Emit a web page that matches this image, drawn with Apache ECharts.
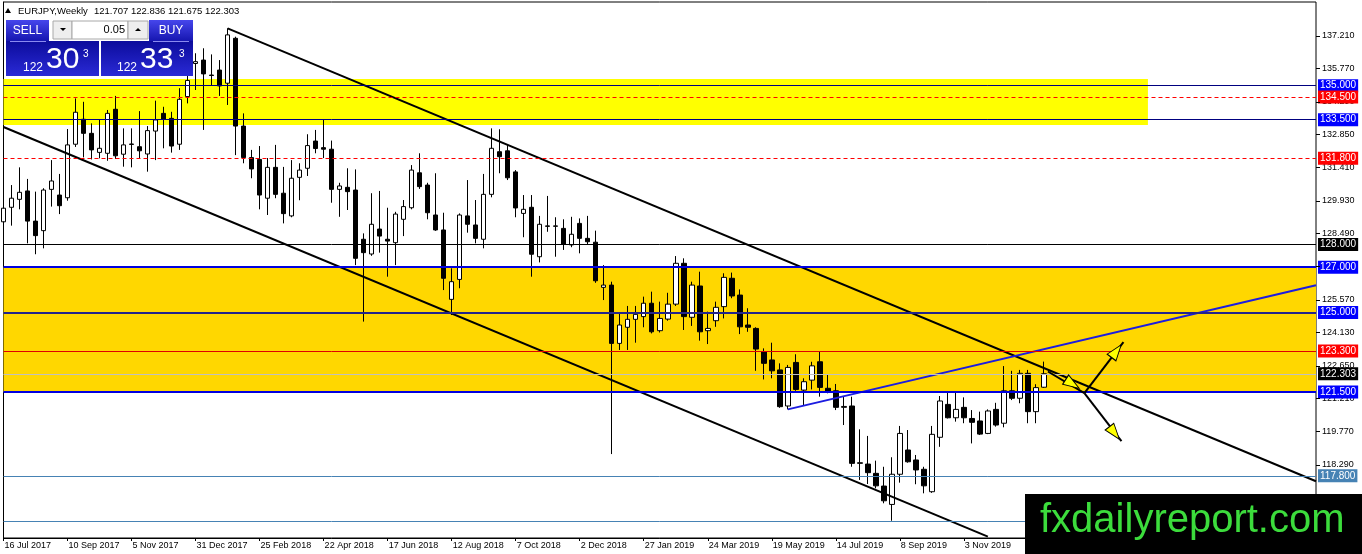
<!DOCTYPE html>
<html><head><meta charset="utf-8">
<script src="https://cdn.jsdelivr.net/npm/echarts@6/dist/echarts.min.js"></script>
<style>html,body{margin:0;padding:0;background:#fff}#c{width:1362px;height:554px}</style>
</head><body><div id="c"></div>
<script>
// ---------------- DATA ----------------
const symbolName = 'EURJPY';
const timeframe = 'Weekly';
const futureWeeks = 34;           // empty weeks to the right of the last bar
const opens = [129.00,129.64,129.99,130.36,129.03,128.61,130.43,130.18,130.06,132.42,133.52,132.90,132.06,132.02,133.96,131.98,132.41,132.31,131.99,133.00,133.78,133.56,132.42,134.52,135.98,136.13,135.47,135.69,135.11,137.09,133.22,131.83,131.75,130.04,131.40,130.26,129.26,130.96,131.36,132.56,132.27,132.20,130.43,130.52,130.40,128.23,127.58,128.68,128.23,128.08,129.11,129.62,131.16,130.62,129.30,128.64,125.58,126.46,129.26,128.86,128.23,130.21,132.09,132.13,131.20,129.37,129.64,127.46,128.82,128.80,128.71,127.98,128.93,128.27,128.10,126.11,126.21,123.64,124.35,124.70,124.82,125.41,124.20,124.71,125.37,127.17,124.79,126.17,124.20,124.64,125.26,126.51,125.77,124.45,124.30,123.27,122.91,122.47,120.88,122.80,121.58,122.02,122.83,121.66,121.55,120.82,120.88,118.35,118.32,117.91,117.35,116.54,117.87,118.94,118.50,118.09,117.10,119.50,120.95,120.36,120.82,120.33,120.22,119.67,120.73,120.12,121.55,121.22,122.32,120.63,121.707];
const highs = [130.48,130.62,131.40,130.89,130.33,130.48,131.72,131.11,133.09,134.44,134.29,133.34,133.49,133.93,134.55,133.12,133.12,133.88,133.22,134.34,134.07,133.85,134.89,135.47,136.43,136.65,136.38,136.13,137.53,137.16,133.78,132.17,132.34,131.81,132.39,131.42,131.72,131.58,132.86,133.05,133.51,132.58,130.72,131.36,131.31,128.49,130.26,130.36,129.62,129.44,129.96,131.50,132.02,130.72,131.14,129.40,126.95,129.37,130.84,129.96,131.11,133.12,133.08,132.39,131.28,130.18,130.18,129.26,130.14,129.20,129.11,129.22,129.15,129.26,128.61,127.09,126.36,124.99,125.29,125.29,125.70,125.92,125.48,125.87,127.49,127.39,126.36,126.80,125.04,125.48,126.73,126.76,126.02,125.19,124.35,123.42,123.67,122.76,122.69,123.16,122.10,122.83,123.27,122.29,121.85,121.29,121.29,119.85,119.56,118.47,118.20,118.62,120.00,119.82,118.72,118.20,120.00,121.32,121.51,121.46,121.26,120.70,120.63,120.73,121.02,122.64,122.43,122.47,122.47,121.84,122.836];
const lows = [128.56,128.83,129.55,128.05,127.57,127.83,129.67,129.34,129.93,132.30,131.84,131.75,131.80,131.69,131.77,131.43,131.40,131.77,131.21,131.72,132.24,132.05,132.17,134.22,134.81,133.05,135.03,134.55,134.15,131.94,131.58,130.92,129.55,129.30,130.04,128.93,129.20,129.95,131.02,132.02,131.81,129.84,129.22,129.52,127.09,124.60,127.50,127.64,126.58,127.09,128.37,129.55,130.45,129.11,128.60,125.99,124.89,126.07,128.52,128.05,127.83,130.08,131.14,130.84,129.20,128.32,126.58,127.21,128.56,127.46,127.76,127.88,127.61,127.98,126.31,125.55,118.76,123.35,123.35,123.67,124.35,124.08,124.12,124.64,125.29,124.23,124.41,123.76,123.61,124.37,124.74,125.63,124.05,124.15,122.43,122.05,122.10,120.80,120.73,121.55,120.92,121.61,121.29,121.44,120.70,120.04,118.20,117.62,117.44,117.25,116.59,115.82,117.50,118.38,117.43,117.03,117.05,119.08,120.33,120.19,120.12,119.23,119.60,119.64,119.97,119.94,121.14,121.00,120.12,120.12,121.675];
const closes = [129.60,130.04,130.30,129.03,128.39,130.40,130.80,129.71,132.39,133.83,132.90,132.17,132.24,133.78,131.91,132.39,132.43,132.13,133.02,133.49,133.52,132.34,134.40,135.23,136.06,135.52,135.45,134.99,137.24,133.22,131.83,131.33,130.18,131.40,130.21,129.36,130.92,131.28,132.36,132.23,132.20,130.43,130.58,130.33,127.39,127.64,128.89,128.37,128.15,129.34,129.67,131.28,130.55,129.40,128.64,126.51,126.36,129.30,128.89,128.27,130.21,132.24,131.87,130.94,129.61,129.55,127.57,128.89,128.80,128.82,128.01,128.45,128.27,128.12,126.40,126.21,123.64,124.45,124.70,124.92,125.41,124.15,124.74,125.37,127.17,124.82,126.21,124.15,124.30,125.23,126.55,125.73,124.37,124.35,123.39,122.76,122.43,120.85,122.58,121.61,121.95,122.65,121.70,121.51,120.82,120.86,118.35,118.38,117.94,117.36,116.70,117.87,119.67,118.42,118.06,117.36,119.63,121.10,120.36,120.73,120.36,120.16,119.64,120.66,120.04,121.55,121.22,122.32,120.63,121.69,122.303];
const askSpread = 0.030;

const yTickLabels = [137.21,135.77,134.29,132.85,131.41,129.93,128.49,127.05,125.57,124.13,122.65,121.21,119.77,118.29,116.85,115.41];
const levelValues = [135.0,134.5,133.5,131.8,128.0,127.0,125.0,123.3,121.5,117.8,115.8];
const yellowZone = [133.27, 135.3];     // price range
const yellowZoneEndWeek = 143;          // bar index where it ends
const goldZone = [121.5, 127.0];
const upperChannel = [[28, 137.53], [164, 117.56]];
const lowerChannel = [[0, 133.18], [123, 115.12]];
const blueTrend = [[98, 120.73], [164, 126.20]];
const arrowLines = [
  [[130.5, 122.40], [135.06, 121.45]],
  [[135.06, 121.45], [139.94, 123.70]],
  [[135.06, 121.45], [139.69, 119.33]]
];
const arrowHeads = [[133.56, 121.85], [139.06, 123.30], [138.81, 119.69]];
const watermarkText = 'fxdailyreport.com';

// ---------------- STYLES ----------------
const FONT = "'Liberation Sans', Arial, sans-serif";
const yMin = 115.06, yMax = 138.69;
const levelStyles = [
  {c:'#000080', w:1, t:'solid', bg:'#0000ff'},
  {c:'#ff0000', w:1, t:[4,3], bg:'#ff0000'},
  {c:'#000080', w:1, t:'solid', bg:'#0000ff'},
  {c:'#ff0000', w:1, t:[4,3], bg:'#ff0000'},
  {c:'#000000', w:1, t:'solid', bg:'#000000'},
  {c:'#0000e0', w:2, t:'solid', bg:'#0000ff'},
  {c:'#24248a', w:2, t:'solid', bg:'#0000ff'},
  {c:'#e00000', w:1, t:'solid', bg:'#ff0000'},
  {c:'#0000e0', w:2, t:'solid', bg:'#0000ff'},
  {c:'#4682b4', w:1, t:'solid', bg:'#4682b4'},
  {c:'#4682b4', w:1, t:'solid', bg:'#4682b4'}
];
const arrowAngles = [-123, -37, -142];

// ---------------- BUILD ----------------
const monthNames = ['Jan','Feb','Mar','Apr','May','Jun','Jul','Aug','Sep','Oct','Nov','Dec'];
const dates = [];
for (let k = 0; k < opens.length + futureWeeks; k++) {
  const d = new Date(Date.UTC(2017, 6, 16 + 7 * k));
  dates.push(d.getUTCDate() + ' ' + monthNames[d.getUTCMonth()] + ' ' + d.getUTCFullYear());
}
const lastIdx = dates.length - 1;
const candles = opens.map((o, i) => [o, closes[i], lows[i], highs[i]]);
const n = opens.length - 1;
const bid = closes[n];
const ask = bid + askSpread;

function lbl(bg, v) {
  return {show: true, position: 'end', distance: 2, formatter: v.toFixed(3), color: '#fff',
    backgroundColor: bg, padding: [2, 2, 1, 2], fontSize: 10, fontFamily: FONT};
}
const levelData = levelValues.map((v, i) => ({
  yAxis: v,
  lineStyle: {color: levelStyles[i].c, width: levelStyles[i].w, type: levelStyles[i].t},
  label: lbl(levelStyles[i].bg, v)
}));
levelData.push({yAxis: bid, lineStyle: {color: '#c0c0c0', width: 1, type: 'solid'}, label: lbl('#000000', bid)});

function lineSeries(pts, color, width, z) {
  return {type: 'line', xAxisIndex: 1, data: pts, symbol: 'none', silent: true, z: z,
    lineStyle: {color: color, width: width}};
}

function fmt(v) { return v.toFixed(3); }
function splitPrice(p) {
  const s = p.toFixed(3);
  return [s.slice(0, 3), s.slice(4, 6), s.slice(6)];
}
const bp = splitPrice(bid), ap = splitPrice(ask);

const btnGrad = () => new echarts.graphic.LinearGradient(0, 0, 0, 1, [{offset: 0, color: '#4646ec'}, {offset: 1, color: '#1616b0'}]);
const boxGrad = () => new echarts.graphic.LinearGradient(0, 0, 0, 1, [{offset: 0, color: '#0c0c9c'}, {offset: 1, color: '#2a2ad6'}]);

const graphics = [
  {type: 'polygon', shape: {points: [[5, 13], [11, 13], [8, 8]]}, style: {fill: '#000'}, z: 100},
  {type: 'text', x: 18, y: 11, style: {text: symbolName + ',' + timeframe, font: '9.5px ' + FONT, fill: '#000', verticalAlign: 'middle'}, z: 100},
  {type: 'text', x: 94, y: 11, style: {text: [opens[n], highs[n], lows[n], closes[n]].map(fmt).join(' '), font: '9.5px ' + FONT, fill: '#000', verticalAlign: 'middle'}, z: 100},
  // one-click panel
  {type: 'rect', shape: {x: 6, y: 20, width: 43, height: 21}, style: {fill: btnGrad()}, z: 100},
  {type: 'rect', shape: {x: 149, y: 20, width: 44, height: 21}, style: {fill: btnGrad()}, z: 100},
  {type: 'rect', shape: {x: 53, y: 21, width: 19, height: 18}, style: {fill: '#eeeeee', stroke: '#a8a8a8'}, z: 100},
  {type: 'rect', shape: {x: 72, y: 21, width: 56, height: 18}, style: {fill: '#ffffff', stroke: '#a8a8a8'}, z: 100},
  {type: 'rect', shape: {x: 128, y: 21, width: 20, height: 18}, style: {fill: '#eeeeee', stroke: '#a8a8a8'}, z: 100},
  {type: 'polygon', shape: {points: [[60, 28], [66, 28], [63, 31]]}, style: {fill: '#000'}, z: 101},
  {type: 'polygon', shape: {points: [[135, 31], [141, 31], [138, 28]]}, style: {fill: '#000'}, z: 101},
  {type: 'text', x: 125, y: 30, style: {text: '0.05', font: '11px ' + FONT, fill: '#000', align: 'right', verticalAlign: 'middle'}, z: 101},
  {type: 'text', x: 27.5, y: 31, style: {text: 'SELL', font: '12px ' + FONT, fill: '#fff', align: 'center', verticalAlign: 'middle'}, z: 101},
  {type: 'text', x: 171, y: 31, style: {text: 'BUY', font: '12px ' + FONT, fill: '#fff', align: 'center', verticalAlign: 'middle'}, z: 101},
  {type: 'rect', shape: {x: 6, y: 41, width: 93, height: 35}, style: {fill: boxGrad()}, z: 100},
  {type: 'rect', shape: {x: 101, y: 41, width: 92, height: 35}, style: {fill: boxGrad()}, z: 100},
  {type: 'line', shape: {x1: 10, y1: 41.5, x2: 46, y2: 41.5}, style: {stroke: '#8a8af0', lineWidth: 1}, z: 101},
  {type: 'line', shape: {x1: 153, y1: 41.5, x2: 189, y2: 41.5}, style: {stroke: '#8a8af0', lineWidth: 1}, z: 101},
  {type: 'text', x: 23, y: 67.5, style: {text: bp[0], font: '12px ' + FONT, fill: '#fff', verticalAlign: 'middle'}, z: 101},
  {type: 'text', x: 46, y: 60, style: {text: bp[1], font: '30px ' + FONT, fill: '#fff', verticalAlign: 'middle'}, z: 101},
  {type: 'text', x: 83, y: 54, style: {text: bp[2], font: '10px ' + FONT, fill: '#fff', verticalAlign: 'middle'}, z: 101},
  {type: 'text', x: 117, y: 67.5, style: {text: ap[0], font: '12px ' + FONT, fill: '#fff', verticalAlign: 'middle'}, z: 101},
  {type: 'text', x: 140, y: 60, style: {text: ap[1], font: '30px ' + FONT, fill: '#fff', verticalAlign: 'middle'}, z: 101},
  {type: 'text', x: 179, y: 54, style: {text: ap[2], font: '10px ' + FONT, fill: '#fff', verticalAlign: 'middle'}, z: 101},
  // watermark
  {type: 'rect', shape: {x: 1025, y: 494, width: 337, height: 60}, style: {fill: '#000'}, z: 100},
  {type: 'text', x: 1040, y: 521, style: {text: watermarkText, font: '40px ' + FONT, fill: '#3cdc3c', verticalAlign: 'middle'}, z: 101}
];

const option = {
  animation: false,
  backgroundColor: '#fff',
  grid: {left: 3.5, right: 46, top: 2, bottom: 16, show: true, borderColor: '#000', borderWidth: 1},
  xAxis: [
    {type: 'category', data: dates, boundaryGap: false,
      axisLine: {lineStyle: {color: '#000'}},
      axisTick: {interval: (i) => i % 8 === 0, length: 3, lineStyle: {color: '#000'}},
      axisLabel: {interval: (i) => i % 8 === 0, align: 'left', color: '#000', fontSize: 9, fontFamily: FONT, margin: 3, padding: [0, 0, 0, 1]},
      splitLine: {show: false}},
    {type: 'value', min: 0, max: lastIdx, show: false}
  ],
  yAxis: {
    type: 'value', position: 'right', min: yMin, max: yMax,
    axisLine: {show: true, lineStyle: {color: '#000'}},
    axisTick: {show: false},
    axisLabel: {customValues: yTickLabels, formatter: (v) => v.toFixed(3), color: '#000', fontSize: 9, fontFamily: FONT, margin: 6},
    splitLine: {show: false}
  },
  series: [
    {type: 'line', xAxisIndex: 1, data: [], z: 1, silent: true,
      markArea: {silent: true, data: [
        [{xAxis: 0, yAxis: yellowZone[1], itemStyle: {color: '#ffff00'}}, {xAxis: yellowZoneEndWeek, yAxis: yellowZone[0]}],
        [{xAxis: 0, yAxis: goldZone[1], itemStyle: {color: '#ffd700'}}, {xAxis: lastIdx, yAxis: goldZone[0]}]
      ]}},
    {type: 'candlestick', xAxisIndex: 0, data: candles, z: 2, barWidth: 5, silent: true,
      itemStyle: {color: '#ffffff', color0: '#000000', borderColor: '#000000', borderColor0: '#000000', borderWidth: 1}},
    {type: 'line', xAxisIndex: 1, data: [], z: 3, silent: true,
      markLine: {silent: true, symbol: ['none', 'none'], data: levelData}},
    lineSeries(upperChannel, '#000', 2, 4),
    lineSeries(lowerChannel, '#000', 2, 4),
    lineSeries(blueTrend, '#1c1ce0', 2, 4),
    ...arrowLines.map(seg => lineSeries(seg, '#000', 2, 5)),
    {type: 'scatter', xAxisIndex: 1, z: 6, silent: true, symbol: 'triangle', symbolSize: [11, 16],
      itemStyle: {color: '#ffff00', borderColor: '#000', borderWidth: 1, opacity: 1},
      data: arrowHeads.map((p, i) => ({value: p, symbolRotate: arrowAngles[i]}))}
  ],
  graphic: graphics
};

const chart = echarts.init(document.getElementById('c'), null, {renderer: 'canvas'});
chart.setOption(option);

// price-axis tick marks, placed through the library's own y scale
const axisX = chart.getWidth() - 46;
const tickGraphics = yTickLabels.map(v => {
  const y = Math.round(chart.convertToPixel({yAxisIndex: 0}, v)) + 0.5;
  return {type: 'line', shape: {x1: axisX, y1: y, x2: axisX + 4, y2: y}, style: {stroke: '#000', lineWidth: 1}, z: 50};
});
chart.setOption({graphic: graphics.concat(tickGraphics)});
</script>
</body></html>
